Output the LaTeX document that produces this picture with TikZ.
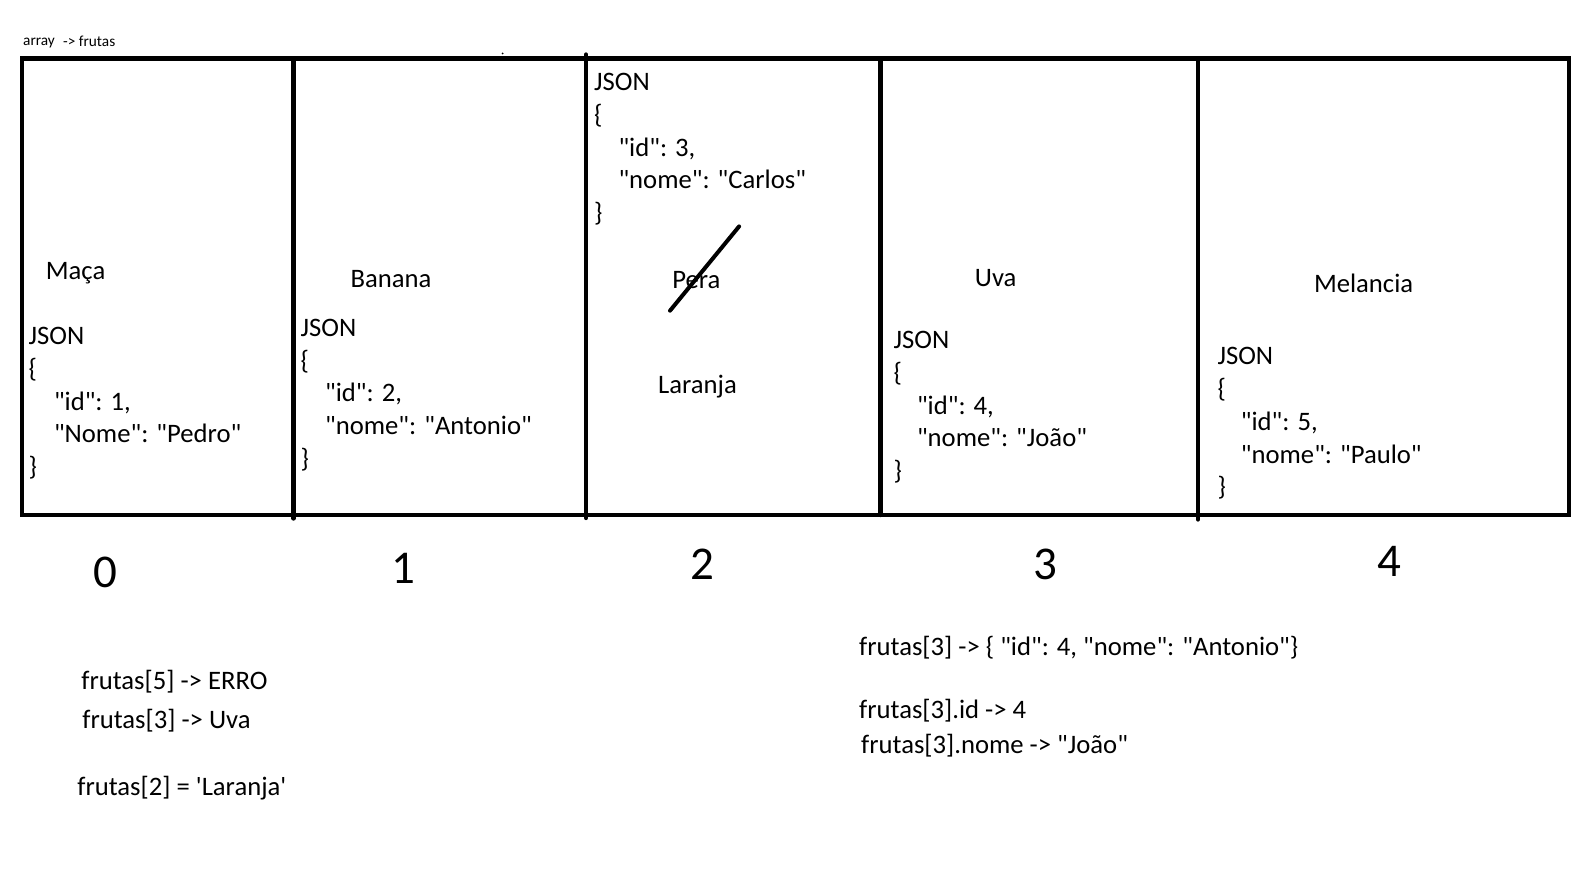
\documentclass[tikz,border=0pt]{standalone}
\usepackage{fontspec}
\setmainfont{Carlito}[Ligatures=TeXOff]
\begin{document}
\begin{tikzpicture}[x=1pt,y=-1pt,
  txt/.style={font=\fontsize{26.67}{32}\selectfont, inner sep=0pt, anchor=base west},
  idx/.style={font=\fontsize{47}{50}\selectfont, inner sep=0pt, anchor=base},
  smalltxt/.style={font=\fontsize{15.3}{17}\selectfont, inner sep=0pt, anchor=base west},
  frame/.style={line width=4.3pt},
  divider/.style={line width=4.3pt, line cap=round},
  strike/.style={line width=4pt, line cap=round}]
\useasboundingbox (0,0) rectangle (1592,874);
\fill[white] (0,0) rectangle (1592,874);

% top labels
\node[smalltxt] (arr) at (23,45.5) {array};
\node[smalltxt] (arrto) at (63,47) {-> frutas};
\fill (502.6,53.5) circle (1);

% frame and dividers
\draw[frame] (22,58.5) rectangle (1569,515);
\coordinate (d1t) at (293.5,58.5); \coordinate (d1b) at (293.5,518.5);
\coordinate (d2t) at (586,54.5);   \coordinate (d2b) at (586,518);
\coordinate (d3t) at (880.5,58.5); \coordinate (d3b) at (880.5,515);
\coordinate (d4t) at (1198,58.5);  \coordinate (d4b) at (1198,519.5);
\draw[divider] (d1t) -- (d1b);
\draw[divider] (d2t) -- (d2b);
\draw[divider] (d3t) -- (d3b);
\draw[divider] (d4t) -- (d4b);

% cell 0
\node[txt] (c0t) at (45.7,279.6) {Maça};
\node[txt] (c0j) at (28.4,344.6) {JSON};
\node[txt] (c0o) at (28.4,377.3) {\{};
\node[txt] (c0i) at (53.8,410.0) {"id": 1,};
\node[txt] (c0n) at (53.8,442.7) {"Nome": "Pedro"};
\node[txt] (c0c) at (28.4,475.4) {\}};

% cell 1
\node[txt] (c1t) at (350.3,287.7) {Banana};
\node[txt] (c1j) at (300.5,336.4) {JSON};
\node[txt] (c1o) at (300.5,369.1) {\{};
\node[txt] (c1i) at (324.9,401.8) {"id": 2,};
\node[txt] (c1n) at (324.9,434.5) {"nome": "Antonio"};
\node[txt] (c1c) at (300.5,467.2) {\}};

% cell 2
\node[txt] (c2j) at (594,90.7) {JSON};
\node[txt] (c2o) at (594,123.4) {\{};
\node[txt] (c2i) at (618.3,156.1) {"id": 3,};
\node[txt] (c2n) at (618.3,188.8) {"nome": "Carlos"};
\node[txt] (c2c) at (594,221.5) {\}};
\node[txt] (c2p) at (672.1,288.7) {Pera};
\coordinate (s1) at (670,310.7);
\coordinate (s2) at (739.1,226.4);
\draw[strike] (s1) -- (s2);
\node[txt] (c2l) at (657.9,393.3) {Laranja};

% cell 3
\node[txt] (c3t) at (974.7,286.7) {Uva};
\node[txt] (c3j) at (893.5,348.6) {JSON};
\node[txt] (c3o) at (893.5,381.3) {\{};
\node[txt] (c3i) at (916.8,414.0) {"id": 4,};
\node[txt] (c3n) at (916.8,446.7) {"nome": "João"};
\node[txt] (c3c) at (893.5,479.4) {\}};

% cell 4
\node[txt] (c4t) at (1313.8,292.8) {Melancia};
\node[txt] (c4j) at (1217.3,364.9) {JSON};
\node[txt] (c4o) at (1217.3,397.6) {\{};
\node[txt] (c4i) at (1240.7,430.3) {"id": 5,};
\node[txt] (c4n) at (1240.7,463.0) {"nome": "Paulo"};
\node[txt] (c4c) at (1217.3,495.7) {\}};

% indices
\node[idx] (i0) at (105,587) {0};
\node[idx] (i1) at (403.5,583) {1};
\node[idx] (i2) at (702,579) {2};
\node[idx] (i3) at (1045,579) {3};
\node[idx] (i4) at (1389,576) {4};

% notes left
\node[txt] (n1) at (81.2,689.5) {frutas[5] -> ERRO};
\node[txt] (n2) at (82.2,728.3) {frutas[3] -> Uva};
\node[txt] (n3) at (77.2,795.4) {frutas[2] = 'Laranja'};

% notes right
\node[txt] (r1) at (859,655.2) {frutas[3] -> \{ "id": 4, "nome": "Antonio"\}};
\node[txt] (r2) at (859,718.2) {frutas[3].id -> 4};
\node[txt] (r3) at (861,753.7) {frutas[3].nome -> "João"};
\end{tikzpicture}
\end{document}
